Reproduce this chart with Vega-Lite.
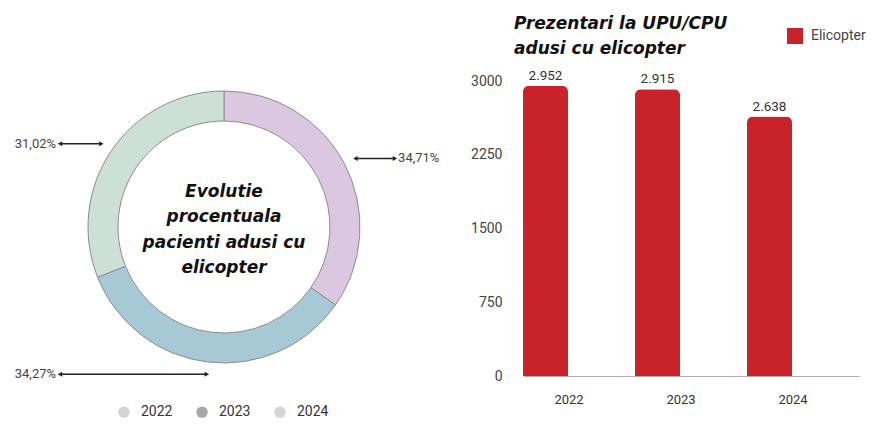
{
  "$schema": "https://vega.github.io/schema/vega-lite/v6.json",
  "padding": {"left": 0, "top": 15, "right": 0, "bottom": 0},
  "background": "white",
  "spacing": 22,
  "config": {
    "view": {"stroke": null},
    "font": "Roboto",
    "locale": {"number": {"decimal": ",", "thousands": ".", "grouping": [3], "currency": ["", " €"]}}
  },
  "resolve": {"scale": {"color": "independent"}, "legend": {"color": "independent"}},
  "datasets": {
    "share": [
      {"year": "2022", "share": 0.3471},
      {"year": "2023", "share": 0.3427},
      {"year": "2024", "share": 0.3102}
    ],
    "center": [{"t": "Evolutie\nprocentuala\npacienti adusi cu\nelicopter"}],
    "bars": [
      {"year": "2022", "count": 2952, "series": "Elicopter"},
      {"year": "2023", "count": 2915, "series": "Elicopter"},
      {"year": "2024", "count": 2638, "series": "Elicopter"}
    ]
  },
  "hconcat": [
    {
      "width": 448,
      "height": 292,
      "layer": [
        {
          "data": {"name": "share"},
          "mark": {"type": "arc", "outerRadius": 136, "innerRadius": 106, "stroke": "#8c8c8c", "strokeWidth": 1},
          "encoding": {
            "theta": {"field": "share", "type": "quantitative", "stack": true},
            "order": {"field": "year", "type": "ordinal"},
            "color": {
              "field": "year", "type": "nominal",
              "scale": {"domain": ["2022", "2023", "2024"], "range": ["#dcc7e0", "#a7c9d5", "#cde0d8"]},
              "legend": null
            }
          }
        },
        {
          "data": {"name": "share"},
          "transform": [
            {"window": [{"op": "sum", "field": "share", "as": "cum"}], "sort": [{"field": "year"}], "frame": [null, 0]},
            {"calculate": "2*PI*(datum.cum - datum.share/2)", "as": "mid"},
            {"calculate": "1.09*sin(datum.mid)", "as": "tipX"},
            {"calculate": "1.09*cos(datum.mid)", "as": "tipY"},
            {"calculate": "datum.tipX < 0 ? -1.206 : 1.257", "as": "endX"},
            {"calculate": "datum.tipX < 0 ? -1.235 : 1.28", "as": "labX"}
          ],
          "layer": [
            {
              "mark": {"type": "rule", "color": "#222", "strokeWidth": 1.3},
              "encoding": {
                "x": {"field": "tipX", "type": "quantitative", "scale": {"domain": [-1.647, 1.647], "nice": false, "zero": false}, "axis": null},
                "x2": {"field": "endX"},
                "y": {"field": "tipY", "type": "quantitative", "scale": {"domain": [-1.0735, 1.0735], "nice": false, "zero": false}, "axis": null}
              }
            },
            {
              "mark": {"type": "point", "filled": true, "size": 26, "color": "#222", "opacity": 1},
              "encoding": {
                "x": {"field": "tipX", "type": "quantitative"},
                "y": {"field": "tipY", "type": "quantitative"},
                "shape": {"condition": {"test": "datum.tipX < 0", "value": "triangle-right"}, "value": "triangle-left"}
              }
            },
            {
              "mark": {"type": "point", "filled": true, "size": 26, "color": "#222", "opacity": 1},
              "encoding": {
                "x": {"field": "endX", "type": "quantitative"},
                "y": {"field": "tipY", "type": "quantitative"},
                "shape": {"condition": {"test": "datum.tipX < 0", "value": "triangle-left"}, "value": "triangle-right"}
              }
            },
            {
              "transform": [{"filter": "datum.tipX < 0"}],
              "mark": {"type": "text", "align": "right", "baseline": "middle", "fontSize": 13, "color": "#444"},
              "encoding": {
                "x": {"field": "labX", "type": "quantitative"},
                "y": {"field": "tipY", "type": "quantitative"},
                "text": {"field": "share", "type": "quantitative", "format": ".2%"}
              }
            },
            {
              "transform": [{"filter": "datum.tipX >= 0"}],
              "mark": {"type": "text", "align": "left", "baseline": "middle", "fontSize": 13, "color": "#444"},
              "encoding": {
                "x": {"field": "labX", "type": "quantitative"},
                "y": {"field": "tipY", "type": "quantitative"},
                "text": {"field": "share", "type": "quantitative", "format": ".2%"}
              }
            }
          ]
        },
        {
          "data": {"name": "share"},
          "mark": {"type": "point", "filled": true, "size": 0, "color": "#9a9a9a"},
          "encoding": {
            "x": {"datum": 0, "type": "quantitative"},
            "y": {"datum": 0, "type": "quantitative"},
            "opacity": {
              "field": "year", "type": "nominal",
              "scale": {"type": "ordinal", "domain": ["2022", "2023", "2024"], "range": [0.42, 0.85, 0.42]},
              "legend": {
                "orient": "none", "legendX": 117, "legendY": 324, "direction": "horizontal",
                "title": null, "symbolType": "circle", "symbolSize": 130, "labelFontSize": 14,
                "labelColor": "#333", "labelOffset": 10, "columnPadding": 21, "padding": 0,
                "symbolFillColor": "#9a9a9a", "symbolStrokeColor": "#8a8a8a", "symbolStrokeWidth": 1
              }
            }
          }
        },
        {
          "data": {"name": "center"},
          "mark": {"type": "text", "align": "center", "baseline": "middle", "font": "DejaVu Sans", "fontSize": 17, "fontWeight": "bold", "fontStyle": "italic", "color": "#111", "lineBreak": "\n", "lineHeight": 25.5},
          "encoding": {
            "x": {"datum": 0, "type": "quantitative"},
            "y": {"datum": 0.26, "type": "quantitative"},
            "text": {"field": "t", "type": "nominal"}
          }
        }
      ]
    },
    {
      "width": 336,
      "height": 295,
      "data": {"name": "bars"},
      "title": {
        "text": ["Prezentari la UPU/CPU", "adusi cu elicopter"],
        "anchor": "start", "frame": "group", "font": "DejaVu Sans", "fontSize": 17, "fontWeight": "bold", "fontStyle": "italic",
        "color": "#111", "lineHeight": 25, "dx": -9, "offset": -30
      },
      "encoding": {
        "x": {
          "field": "year", "type": "nominal",
          "scale": {"paddingInner": 0, "paddingOuter": 0},
          "axis": {"title": null, "labelAngle": 0, "labelOffset": -10, "labelPadding": 17, "labelFontSize": 13, "labelColor": "#333", "ticks": false, "domainColor": "#b0b0b0"}
        },
        "y": {
          "field": "count", "type": "quantitative",
          "scale": {"domain": [0, 3000], "nice": false},
          "axis": {"title": null, "values": [0, 750, 1500, 2250, 3000], "format": "d", "grid": false, "ticks": false, "domain": false, "labelPadding": 21, "labelFontSize": 14, "labelColor": "#444"}
        }
      },
      "layer": [
        {
          "mark": {"type": "bar", "width": 45, "xOffset": -33.5, "cornerRadiusTopLeft": 6, "cornerRadiusTopRight": 6},
          "encoding": {
            "color": {
              "field": "series", "type": "nominal",
              "scale": {"range": ["#c8232b"]},
              "legend": {"orient": "none", "legendX": 264, "legendY": -53, "title": null, "symbolType": "square", "symbolSize": 256, "labelFontSize": 14, "labelColor": "#444", "labelOffset": 8, "padding": 0, "symbolStrokeWidth": 0, "symbolOpacity": 1}
            }
          }
        },
        {
          "mark": {"type": "text", "xOffset": -33.5, "dy": -6, "baseline": "alphabetic", "fontSize": 13.5, "color": "#333"},
          "encoding": {"text": {"field": "count", "type": "quantitative", "format": ",d"}}
        }
      ]
    }
  ]
}
